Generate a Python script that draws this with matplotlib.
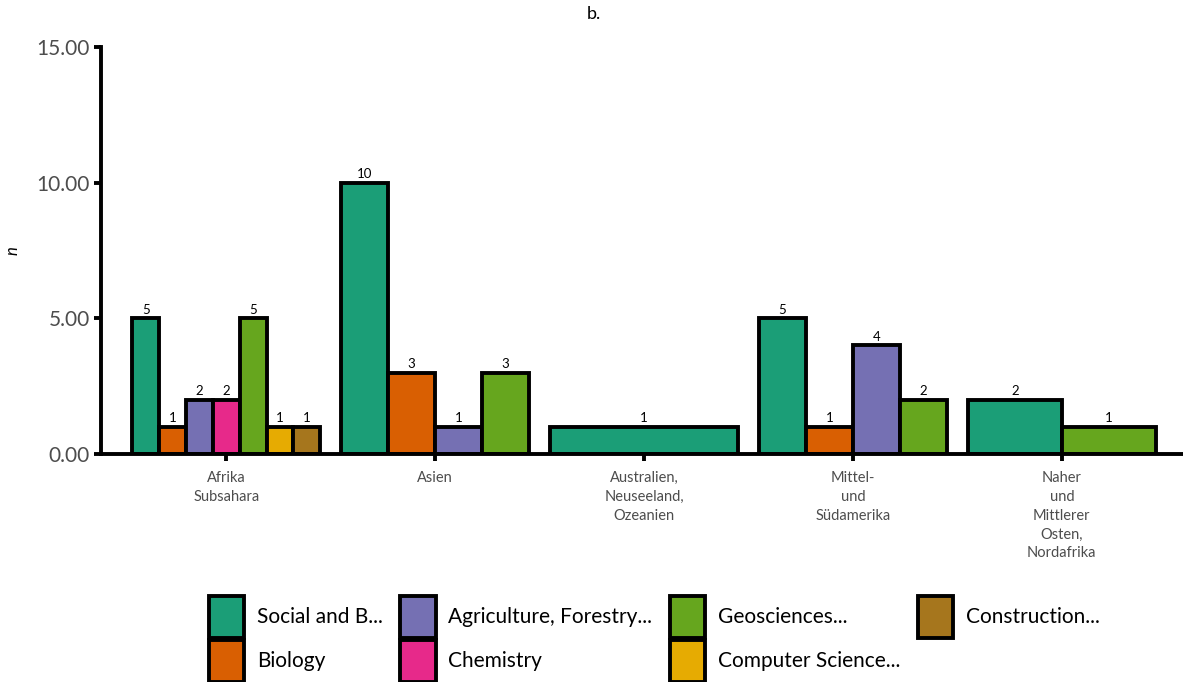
import numpy as np
import matplotlib.pyplot as plt
from matplotlib.patches import Patch

plt.rcParams['font.family'] = ['Lato', 'DejaVu Sans']

regions = ['Afrika\nSubsahara', 'Asien', 'Australien,\nNeuseeland,\nOzeanien',
           'Mittel-\nund\nSüdamerika', 'Naher\nund\nMittlerer\nOsten,\nNordafrika']
fields = ['Social and B...', 'Biology', 'Agriculture, Forestry...', 'Chemistry',
          'Geosciences...', 'Computer Science...', 'Construction...']
colors = ['#1B9E77', '#D95F02', '#7570B3', '#E7298A', '#66A61E', '#E6AB02', '#A6761D']

# counts per region, 0 = field not present in that region
counts = [
    [5, 1, 2, 2, 5, 1, 1],
    [10, 3, 1, 0, 3, 0, 0],
    [1, 0, 0, 0, 0, 0, 0],
    [5, 1, 4, 0, 2, 0, 0],
    [2, 0, 0, 0, 1, 0, 0],
]

fig = plt.figure(figsize=(11.83, 6.82), dpi=100)
ax = fig.add_axes([0.0854, 0.3343, 0.9146, 0.5968])

for i, row in enumerate(counts):
    present = [j for j, v in enumerate(row) if v > 0]
    w = 0.9 / len(present)
    left = i + 1 - 0.45
    for k, j in enumerate(present):
        x0 = left + k * w
        ax.bar(x0, row[j], width=w, align='edge', color=colors[j],
               edgecolor='black', linewidth=2.8, zorder=2)
        ax.text(x0 + w / 2, row[j] + 0.1, str(row[j]), ha='center', va='bottom',
                fontsize=9.5, color='black')

ax.set_xlim(0.4, 5.58)
ax.set_ylim(0, 15)
ax.set_xticks(np.arange(1, len(regions) + 1))
ax.set_xticklabels(regions, fontsize=10.5, color='#4D4D4D', linespacing=1.45)
ax.set_yticks([0, 5, 10, 15])
ax.set_yticklabels(['0.00', '5.00', '10.00', '15.00'], fontsize=15, color='#4D4D4D')
ax.tick_params(axis='both', width=2.8, length=5, color='black')
ax.tick_params(axis='x', pad=7)
ax.tick_params(axis='y', pad=3)

for s in ['top', 'right']:
    ax.spines[s].set_visible(False)
for s in ['left', 'bottom']:
    ax.spines[s].set_linewidth(2.8)

ax.set_ylabel('n', fontstyle='italic', fontsize=12)
ax.yaxis.set_label_coords(-0.074, 0.5)
ax.set_title('b.', fontsize=13, pad=20, x=0.4556)

handles = [Patch(facecolor=c, edgecolor='black', linewidth=2.8) for c in colors]
fig.legend(handles, fields, loc='lower center', bbox_to_anchor=(0.553, -0.028), ncol=4,
           frameon=False, fontsize=15, handlelength=1.7, handleheight=2.75,
           handletextpad=0.6, columnspacing=0.85, labelspacing=0.1)

fig.savefig('out.png', dpi=100)
